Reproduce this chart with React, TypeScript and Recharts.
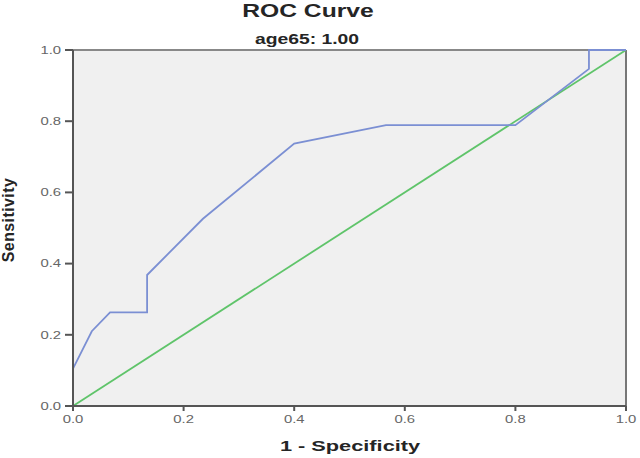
import React from "react";
import { LineChart, Line, XAxis, YAxis, CartesianGrid, ReferenceLine } from "recharts";

// ROC points (1 - specificity, sensitivity)
const rocFpr = [0, 0, 0.034, 0.067, 0.134, 0.134, 0.235, 0.4, 0.566, 0.8, 0.933, 0.933, 1.0];
const rocTpr = [0, 0.105, 0.21, 0.263, 0.263, 0.368, 0.526, 0.737, 0.789, 0.789, 0.947, 1.0, 1.0];
const refFpr = [0, 1];
const refTpr = [0, 1];
const ticks = [0, 0.2, 0.4, 0.6, 0.8, 1.0];

const roc = rocFpr.map((x, i) => ({ x, y: rocTpr[i] }));
const ref = refFpr.map((x, i) => ({ x, y: refTpr[i] }));

const font = "'Liberation Sans', Arial, sans-serif";

function Txt({
  x,
  y,
  size,
  stretch = 1,
  spacing = 0,
  rotate,
  children,
}: {
  x: number;
  y: number;
  size: number;
  stretch?: number;
  spacing?: number;
  rotate?: boolean;
  children: React.ReactNode;
}) {
  const tf = rotate
    ? `translate(-50%,-50%) rotate(-90deg)`
    : `translate(-50%,-50%) scaleX(${stretch})`;
  return (
    <div
      style={{
        position: "absolute",
        left: x,
        top: y,
        transform: tf,
        fontFamily: font,
        fontWeight: "bold",
        fontSize: size,
        letterSpacing: spacing,
        lineHeight: 1,
        whiteSpace: "nowrap",
        color: "#252525",
      }}
    >
      {children}
    </div>
  );
}

// tick labels in the source are drawn a bit wide
function Tick(props: any) {
  const { x, y, payload, side } = props;
  const isX = side === "x";
  return (
    <g transform={`translate(${x},${y})`}>
      <text
        x={0}
        y={0}
        dy={isX ? "0.75em" : "0.35em"}
        textAnchor={isX ? "middle" : "end"}
        transform="scale(1.35,1)"
        fill="#666"
        fontSize={11}
        fontFamily={font}
      >
        {Number(payload.value).toFixed(1)}
      </text>
    </g>
  );
}

export default function App() {
  return (
    <div style={{ position: "absolute", left: 0, top: 0, width: 640, height: 458, background: "#fff" }}>
      <LineChart width={640} height={458} margin={{ top: 50, right: 14, bottom: 0, left: 0 }}>
        <CartesianGrid fill="#f0f0f0" horizontal={false} vertical={false} />
        <XAxis
          type="number"
          dataKey="x"
          domain={[0, 1]}
          ticks={ticks}
          height={52}
          tick={<Tick side="x" />}
          tickSize={5}
          tickMargin={4}
          axisLine={{ stroke: "#555", strokeWidth: 2 }}
          tickLine={{ stroke: "#555", strokeWidth: 2 }}
        />
        <YAxis
          type="number"
          dataKey="y"
          domain={[0, 1]}
          ticks={ticks}
          width={73}
          tick={<Tick side="y" />}
          tickSize={8}
          tickMargin={4}
          axisLine={{ stroke: "#555", strokeWidth: 2 }}
          tickLine={{ stroke: "#555", strokeWidth: 2 }}
        />
        <ReferenceLine y={1} stroke="#888" strokeWidth={2} />
        <ReferenceLine x={1} stroke="#777" strokeWidth={2} />
        <Line data={ref} dataKey="y" stroke="#5fc46a" strokeWidth={1.8} dot={false} isAnimationActive={false} />
        <Line data={roc} dataKey="y" stroke="#7b8fd3" strokeWidth={1.8} dot={false} isAnimationActive={false} />
      </LineChart>
      <Txt x={308} y={11} size={18} stretch={1.37}>ROC Curve</Txt>
      <Txt x={307} y={39} size={14} stretch={1.38}>age65: 1.00</Txt>
      <Txt x={350} y={445} size={15} stretch={1.45}>1 - Specificity</Txt>
      <Txt x={9} y={220} size={16} spacing={0.4} rotate>Sensitivity</Txt>
    </div>
  );
}
